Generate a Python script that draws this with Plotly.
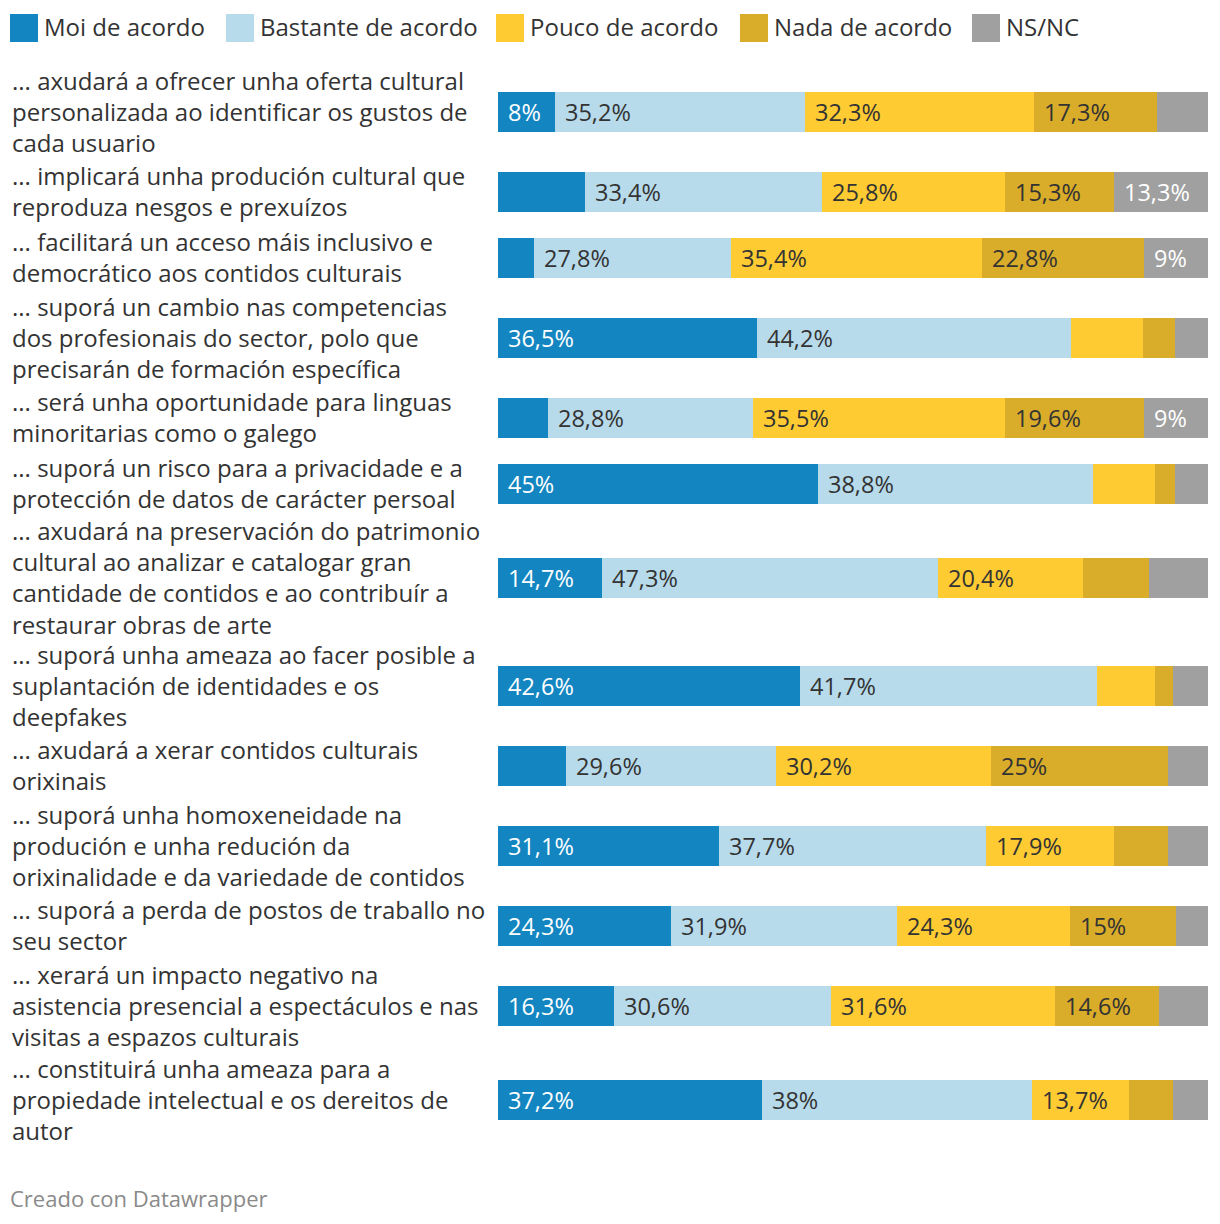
import plotly.graph_objects as go

# ---------------- data ----------------
labels = [
    "... axudará a ofrecer unha oferta cultural<br>personalizada ao identificar os gustos de<br>cada usuario",
    "... implicará unha produción cultural que<br>reproduza nesgos e prexuízos",
    "... facilitará un acceso máis inclusivo e<br>democrático aos contidos culturais",
    "... suporá un cambio nas competencias<br>dos profesionais do sector, polo que<br>precisarán de formación específica",
    "... será unha oportunidade para linguas<br>minoritarias como o galego",
    "... suporá un risco para a privacidade e a<br>protección de datos de carácter persoal",
    "... axudará na preservación do patrimonio<br>cultural ao analizar e catalogar gran<br>cantidade de contidos e ao contribuír a<br>restaurar obras de arte",
    "... suporá unha ameaza ao facer posible a<br>suplantación de identidades e os<br>deepfakes",
    "... axudará a xerar contidos culturais<br>orixinais",
    "... suporá unha homoxeneidade na<br>produción e unha redución da<br>orixinalidade e da variedade de contidos",
    "... suporá a perda de postos de traballo no<br>seu sector",
    "... xerará un impacto negativo na<br>asistencia presencial a espectáculos e nas<br>visitas a espazos culturais",
    "... constituirá unha ameaza para a<br>propiedade intelectual e os dereitos de<br>autor",
]

series_names = ["Moi de acordo", "Bastante de acordo", "Pouco de acordo", "Nada de acordo", "NS/NC"]

moi      = [8.0, 12.2, 5.0, 36.5, 7.1, 45.0, 14.7, 42.6, 9.6, 31.1, 24.3, 16.3, 37.2]
bastante = [35.2, 33.4, 27.8, 44.2, 28.8, 38.8, 47.3, 41.7, 29.6, 37.7, 31.9, 30.6, 38.0]
pouco    = [32.3, 25.8, 35.4, 10.1, 35.5, 8.7, 20.4, 8.2, 30.2, 17.9, 24.3, 31.6, 13.7]
nada     = [17.3, 15.3, 22.8, 4.5, 19.6, 2.8, 9.3, 2.5, 25.0, 7.6, 15.0, 14.6, 6.2]
nsnc     = [7.2, 13.3, 9.0, 4.7, 9.0, 4.7, 8.3, 5.0, 5.6, 5.7, 4.5, 6.9, 4.9]

series_values = [moi, bastante, pouco, nada, nsnc]

# ---------------- style ----------------
colors = ["#1386c1", "#b8dbeb", "#fecb33", "#d9ac2a", "#a0a0a0"]
text_colors = ["#ffffff", "#333333", "#333333", "#333333", "#ffffff"]
FONT = "Open Sans"
FS = 24          # row labels / legend
FS_VAL = 23.5    # value labels inside bars
W, H = 1220, 1224
PLOT_W = 1208           # plot area width (margin right 12)
BAR_X0 = 498            # left edge of bars in px
PX_PER_PCT = (PLOT_W - BAR_X0) / 100.0
BAR_H = 40
TOP = 65
LABEL_PAD = 23


def fmt(v):
    s = ("%.1f" % v).rstrip("0").rstrip(".")
    return s.replace(".", ",") + "%"


def text_width(s):
    w = 0.0
    for ch in s:
        if ch.isdigit():
            w += 12.5
        elif ch == ",":
            w += 8.0
        elif ch == "%":
            w += 19.5
        else:
            w += 12.0
    return w


# row centres derived from label line counts (pixel units on y)
centers = []
cur = TOP
for lab in labels:
    n = lab.count("<br>") + 1
    h = 10 + 28 * n
    centers.append(cur + h / 2)
    cur += h

fig = go.Figure()
annotations = []

for si, (name, vals) in enumerate(zip(series_names, series_values)):
    fig.add_trace(go.Bar(
        name=name, x=vals, y=centers, orientation="h",
        width=BAR_H, marker=dict(color=colors[si], line=dict(width=0)),
        showlegend=False, hoverinfo="x+name",
    ))

# value labels
for ri in range(len(labels)):
    base = 0.0
    for si, vals in enumerate(series_values):
        v = vals[ri]
        t = fmt(v)
        if text_width(t) + LABEL_PAD <= v * PX_PER_PCT:
            annotations.append(dict(
                x=base, y=centers[ri], xref="x", yref="y", text=t,
                xanchor="left", yanchor="middle", xshift=8, showarrow=False,
                font=dict(family=FONT, size=FS_VAL, color=text_colors[si]),
            ))
        base += v

# row labels
for ri, lab in enumerate(labels):
    annotations.append(dict(
        x=10 / PLOT_W, y=centers[ri] - 1,
        xref="paper", yref="y", text=lab,
        xanchor="left", yanchor="middle", align="left", showarrow=False,
        font=dict(family=FONT, size=FS, color="#333333"),
    ))

# custom legend
legend_x = [10, 226, 496, 740, 972]
shapes = []
LEG_Y = 28
for si, name in enumerate(series_names):
    x0 = legend_x[si]
    shapes.append(dict(
        type="rect", xref="paper", yref="paper",
        x0=x0 / PLOT_W, x1=(x0 + 28) / PLOT_W,
        y0=1 - (LEG_Y + 14) / H, y1=1 - (LEG_Y - 14) / H,
        fillcolor=colors[si], line=dict(width=0),
    ))
    annotations.append(dict(
        x=(x0 + 32) / PLOT_W, y=1 - (LEG_Y - 2) / H, xref="paper", yref="paper",
        text=name, xanchor="left", yanchor="middle", showarrow=False,
        font=dict(family=FONT, size=FS, color="#333333"),
    ))

# footer
annotations.append(dict(
    x=8 / PLOT_W, y=1 - 1198 / H, xref="paper", yref="paper",
    text="Creado con Datawrapper", xanchor="left", yanchor="middle",
    showarrow=False, font=dict(family=FONT, size=22, color="#8a8a8a"),
))

fig.update_layout(
    width=W, height=H, barmode="stack", bargap=0,
    margin=dict(l=0, r=W - PLOT_W, t=0, b=0),
    paper_bgcolor="white", plot_bgcolor="white",
    xaxis=dict(domain=[BAR_X0 / PLOT_W, 1], range=[0, 100], visible=False, fixedrange=True),
    yaxis=dict(range=[H, 0], visible=False, fixedrange=True),
    annotations=annotations, shapes=shapes,
    font=dict(family=FONT),
)

fig.write_html("out.html", config={"displayModeBar": False})
